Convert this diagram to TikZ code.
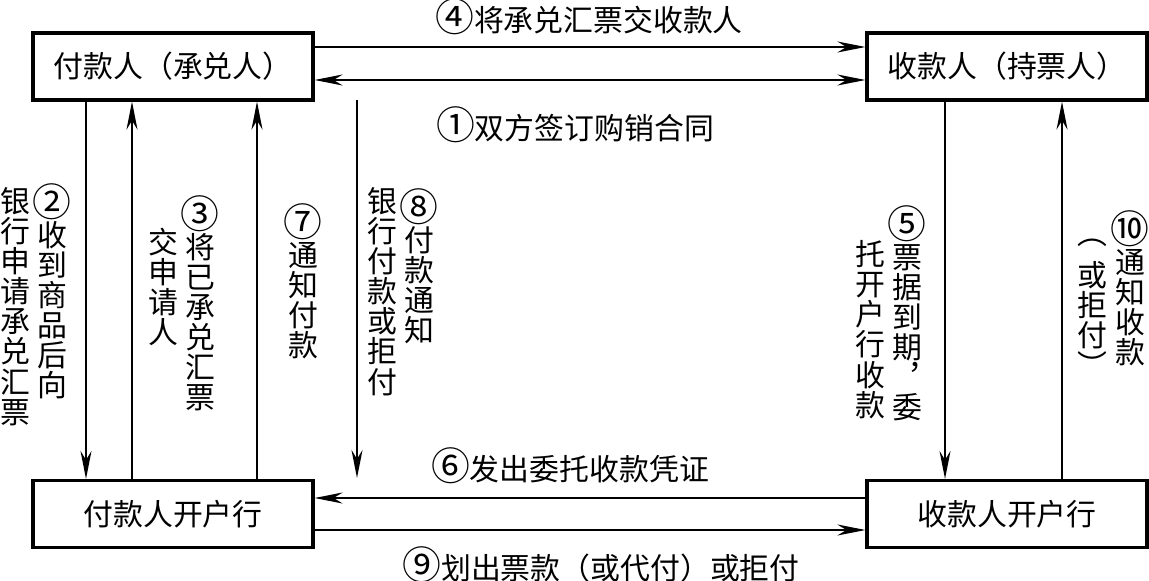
\documentclass[tikz,border=0pt]{standalone}
\usepackage{fontspec}
\newfontfamily\cjk{Noto Sans CJK SC}
\usetikzlibrary{arrows.meta}
% circled numbers as wide as a character
\newcommand\cnum[1]{\scalebox{1.3}{#1}}

\begin{document}
\begin{tikzpicture}[x=0.1mm,y=-0.1mm,
  >={Stealth[length=2.8mm,width=1.1mm,inset=0.9mm]},
  box/.style={draw,line width=0.9pt,minimum width=28mm,minimum height=6.7mm,
    inner sep=0pt,font=\cjk\fontsize{8.5}{10}\selectfont},
  flow/.style={line width=0.6pt},
  lab/.style={inner sep=0pt,font=\cjk\fontsize{8.5}{10}\selectfont},
  vlab/.style={inner sep=0pt,anchor=north,align=center,
    font=\cjk\fontsize{8.5}{8.55}\selectfont}]
  \useasboundingbox (0,0) rectangle (1149,580);
  % parties and banks
  \node[box] (payer) at (173,66.5) {付款人（承兑人）};
  \node[box] (payee) at (1007,66.5) {收款人（持票人）};
  \node[box] (payerbank) at (173,514) {付款人开户行};
  \node[box] (payeebank) at (1007,514) {收款人开户行};
  % horizontal flows
  \draw[flow,->] ([yshift=1.95mm]payer.east) -- ([yshift=1.95mm]payee.west);
  \draw[flow,<->] ([yshift=-1.35mm]payer.east) -- ([yshift=-1.35mm]payee.west);
  \draw[flow,->] ([yshift=1.6mm]payeebank.west) -- ([yshift=1.6mm]payerbank.east);
  \draw[flow,->] ([yshift=-1.6mm]payerbank.east) -- ([yshift=-1.6mm]payeebank.west);
  \node[lab] (l4) at (589,17) {\cnum{④}将承兑汇票交收款人};
  \node[lab] (l1) at (575,125) {\cnum{①}双方签订购销合同};
  \node[lab] (l6) at (570,466) {\cnum{⑥}发出委托收款凭证};
  \node[lab] (l9) at (601,565) {\cnum{⑨}划出票款（或代付）或拒付};
  % vertical flows
  \draw[flow,->] ([xshift=-8.7mm]payer.south) -- ([xshift=-8.7mm]payerbank.north);
  \draw[flow,->] ([xshift=-4.1mm]payerbank.north) -- ([xshift=-4.1mm]payer.south);
  \draw[flow,->] ([xshift=8.4mm]payerbank.north) -- ([xshift=8.4mm]payer.south);
  \coordinate (n8top) at (357,100);
  \coordinate (n8end) at (357,478);
  \draw[flow,->] (n8top) -- (n8end);
  \draw[flow,->] ([xshift=-6.2mm]payee.south) -- ([xshift=-6.2mm]payeebank.north);
  \draw[flow,->] ([xshift=5.5mm]payeebank.north) -- ([xshift=5.5mm]payee.south);
  % vertical labels
  \node[vlab] (l2a) at (52,183) {\cnum{②}\\收\\到\\商\\品\\后\\向};
  \node[vlab] (l2b) at (15,187) {银\\行\\申\\请\\承\\兑\\汇\\票};
  \node[vlab] (l3a) at (200,195) {\cnum{③}\\将\\已\\承\\兑\\汇\\票};
  \node[vlab] (l3b) at (163,227) {交\\申\\请\\人};
  \node[vlab] (l7) at (303,203) {\cnum{⑦}\\通\\知\\付\\款};
  \node[vlab] (l8a) at (419,188) {\cnum{⑧}\\付\\款\\通\\知};
  \node[vlab] (l8b) at (382,187) {银\\行\\付\\款\\或\\拒\\付};
  \node[vlab] (l5a) at (907,205) {\cnum{⑤}\\票\\据\\到\\期\\︐\\委};
  \node[vlab] (l5b) at (870,240) {托\\开\\户\\行\\收\\款};
  \node[vlab] (l10a) at (1130,210) {\cnum{⑩}\\通\\知\\收\\款};
  \node[vlab] (l10b) at (1092,238) {\raisebox{0.4em}{︵}\\或\\拒\\付\\︶};
\end{tikzpicture}
\end{document}
